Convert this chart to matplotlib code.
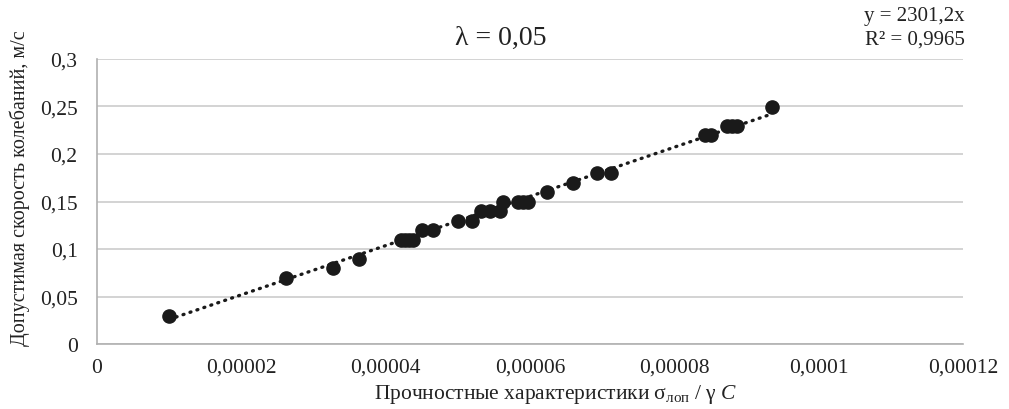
import numpy as np
import matplotlib
matplotlib.use("Agg")
import matplotlib.pyplot as plt
from matplotlib.ticker import FuncFormatter, MultipleLocator

plt.rcParams['font.family'] = ['Liberation Serif', 'DejaVu Serif']
plt.rcParams['mathtext.fontset'] = 'custom'
plt.rcParams['mathtext.rm'] = 'Liberation Serif'
plt.rcParams['mathtext.it'] = 'Liberation Serif:italic'

# strength characteristic vs allowable vibration velocity (lambda = 0.05)
strength = [1.00e-5, 2.62e-5, 3.27e-5, 3.63e-5,
            4.21e-5, 4.27e-5, 4.32e-5, 4.38e-5,
            4.50e-5, 4.66e-5, 5.00e-5, 5.20e-5,
            5.32e-5, 5.45e-5, 5.58e-5,
            5.63e-5, 5.83e-5, 5.90e-5, 5.97e-5,
            6.24e-5, 6.60e-5, 6.93e-5, 7.12e-5,
            8.43e-5, 8.51e-5, 8.73e-5, 8.80e-5, 8.87e-5, 9.35e-5]
velocity = [0.03, 0.07, 0.08, 0.09,
            0.11, 0.11, 0.11, 0.11,
            0.12, 0.12, 0.13, 0.13,
            0.14, 0.14, 0.14,
            0.15, 0.15, 0.15, 0.15,
            0.16, 0.17, 0.18, 0.18,
            0.22, 0.22, 0.23, 0.23, 0.23, 0.25]

x = np.array(strength)
y = np.array(velocity)

# trend line through the origin
k = np.sum(x * y) / np.sum(x * x)
xt = np.array([x.min(), x.max()])

fig = plt.figure(figsize=(10.09, 4.10), dpi=100)
ax = fig.add_axes([97 / 1009, 65 / 410, 866 / 1009, 285 / 410])

txt_c = '#222222'
ax.plot(xt, k * xt, color='#1a1a1a', lw=2.4, linestyle=(0, (0.3, 1.9)),
        dash_capstyle='round', zorder=2)
ax.plot(x, y, 'o', color='#1a1a1a', markersize=9.5, zorder=3)

ax.set_xlim(0, 0.00012)
ax.set_ylim(0, 0.3)
ax.xaxis.set_major_locator(MultipleLocator(0.00002))
ax.yaxis.set_major_locator(MultipleLocator(0.05))


def comma(v, pos):
    if abs(v) < 1e-12:
        return '0'
    s = ('%.5f' % v).rstrip('0').rstrip('.')
    return s.replace('.', ',')


ax.xaxis.set_major_formatter(FuncFormatter(comma))
ax.yaxis.set_major_formatter(FuncFormatter(comma))

ax.grid(axis='y', color='#cccccc', lw=1.2)
ax.set_axisbelow(True)
for side in ['top', 'right']:
    ax.spines[side].set_visible(False)
for side in ['left', 'bottom']:
    ax.spines[side].set_color('#b0b0b0')
    ax.spines[side].set_linewidth(1.2)
ax.tick_params(axis='x', length=0, labelsize=15.5, colors=txt_c, pad=10)
ax.tick_params(axis='y', length=0, labelsize=15.5, colors=txt_c, pad=14)

fig.text(501 / 1009, 1 - 38 / 410, 'λ = 0,05', ha='center', va='center',
         fontsize=20, color=txt_c)
fig.text(556 / 1009, 1 - 395 / 410,
         'Прочностные характеристики σ$_{\\mathrm{лоп}}$ / γ $\\mathit{C}$',
         ha='center', va='center', fontsize=15.5, color=txt_c)
fig.text(20 / 1009, 1 - 188 / 410, 'Допустимая скорость колебаний, м/с',
         rotation=90, ha='center', va='center', fontsize=14.5, color=txt_c)

fig.text(965 / 1009, 1 - 17 / 410, 'y = 2301,2x', ha='right', va='center',
         fontsize=15, color=txt_c)
fig.text(965 / 1009, 1 - 40 / 410, 'R² = 0,9965', ha='right', va='center',
         fontsize=15, color=txt_c)

fig.savefig('out.png', dpi=100)
